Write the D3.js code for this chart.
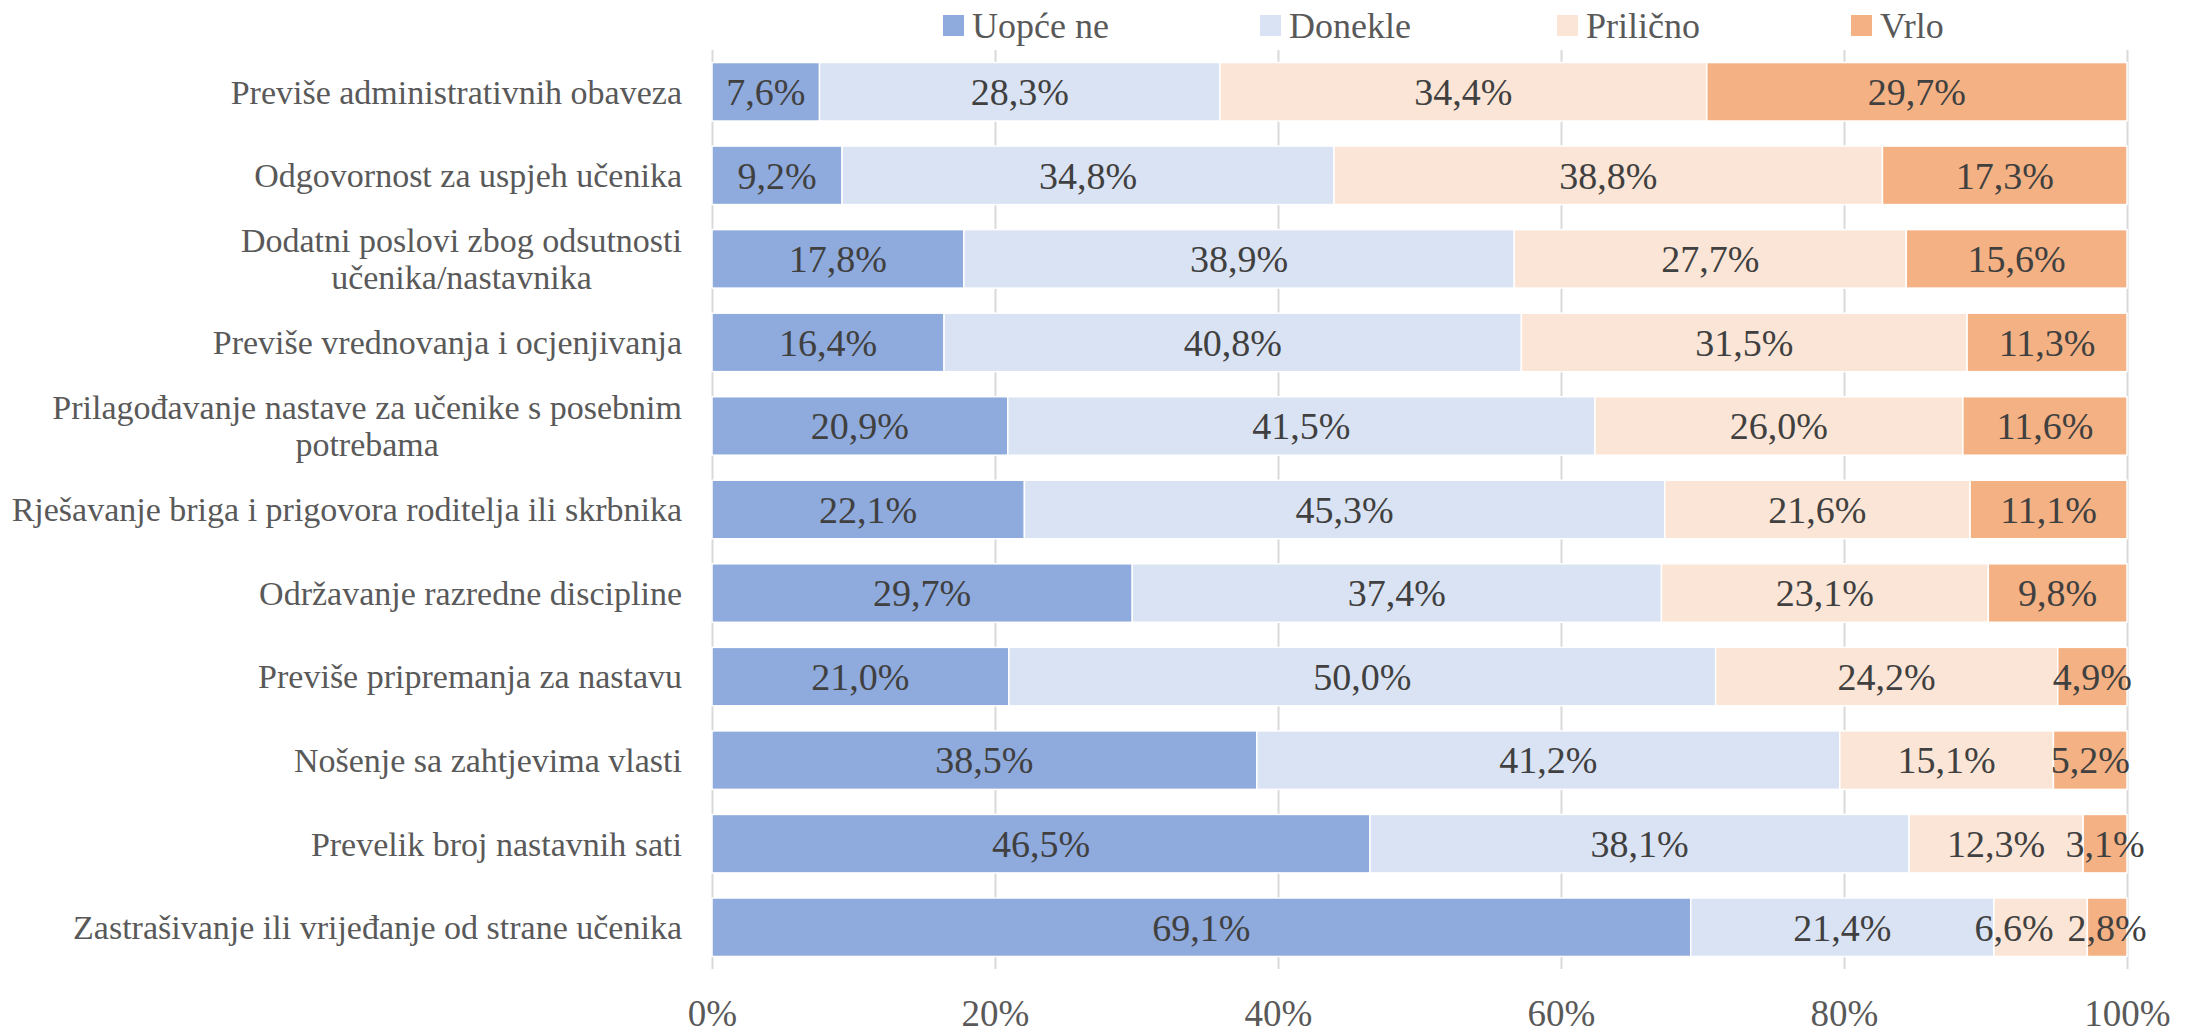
<!DOCTYPE html>
<html>
<head>
<meta charset="utf-8">
<script src="https://cdn.jsdelivr.net/npm/d3@7/dist/d3.min.js"></script>
<style>
  html, body { margin: 0; padding: 0; background: #fff; }
  svg { display: block; font-family: "Liberation Serif", "DejaVu Serif", serif; }
</style>
</head>
<body>
<div id="chart"></div>
<script>
// categories, top to bottom (line breaks as in the original)
var categories = [
  "Previše administrativnih obaveza",
  "Odgovornost za uspjeh učenika",
  "Dodatni poslovi zbog odsutnosti\nučenika/nastavnika",
  "Previše vrednovanja i ocjenjivanja",
  "Prilagođavanje nastave za učenike s posebnim\npotrebama",
  "Rješavanje briga i prigovora roditelja ili skrbnika",
  "Održavanje razredne discipline",
  "Previše pripremanja za nastavu",
  "Nošenje sa zahtjevima vlasti",
  "Prevelik broj nastavnih sati",
  "Zastrašivanje ili vrijeđanje od strane učenika"
];

var seriesNames = ["Uopće ne", "Donekle", "Prilično", "Vrlo"];

var uopceNe  = [7.6, 9.2, 17.8, 16.4, 20.9, 22.1, 29.7, 21.0, 38.5, 46.5, 69.1];
var donekle  = [28.3, 34.8, 38.9, 40.8, 41.5, 45.3, 37.4, 50.0, 41.2, 38.1, 21.4];
var prilicno = [34.4, 38.8, 27.7, 31.5, 26.0, 21.6, 23.1, 24.2, 15.1, 12.3, 6.6];
var vrlo     = [29.7, 17.3, 15.6, 11.3, 11.6, 11.1, 9.8, 4.9, 5.2, 3.1, 2.8];

var tickValues = [0, 0.2, 0.4, 0.6, 0.8, 1.0];

var colors = ["#8FAADC", "#DAE3F3", "#FBE5D6", "#F4B183"];

var width = 2202, height = 1035;
var plotLeft = 712, plotRight = 2127, plotTop = 50, plotBottom = 969;

// build table for d3.stack
var table = categories.map(function(c, i) {
  var row = { cat: c };
  row[seriesNames[0]] = uopceNe[i];
  row[seriesNames[1]] = donekle[i];
  row[seriesNames[2]] = prilicno[i];
  row[seriesNames[3]] = vrlo[i];
  return row;
});

var stack = d3.stack().keys(seriesNames).offset(d3.stackOffsetExpand);
var layers = stack(table);

var x = d3.scaleLinear().domain([0, 1]).range([plotLeft, plotRight]);
var y = d3.scaleBand().domain(categories).range([plotTop, plotBottom])
  .paddingInner(0.3).paddingOuter(0.15);
var color = d3.scaleOrdinal().domain(seriesNames).range(colors);

var svg = d3.select("#chart").append("svg")
  .attr("width", width).attr("height", height);

// gridlines + x axis
var xAxis = svg.append("g")
  .attr("transform", "translate(0," + plotBottom + ")")
  .call(d3.axisBottom(x).tickValues(tickValues).tickFormat(d3.format(".0%"))
    .tickSize(-(plotBottom - plotTop)));
xAxis.attr("font-family", null).attr("font-size", null);
xAxis.select(".domain").remove();
xAxis.selectAll(".tick line").attr("stroke", "#D9D9D9").attr("stroke-width", 2);
xAxis.selectAll(".tick text")
  .attr("y", 57).attr("dy", 0)
  .attr("fill", "#595959")
  .style("font-size", "37px");

// bars
var layer = svg.selectAll("g.layer").data(layers).enter().append("g")
  .attr("class", "layer")
  .attr("fill", function(d) { return color(d.key); });

layer.selectAll("rect").data(function(d) { return d; }).enter().append("rect")
  .attr("x", function(d) { return x(d[0]); })
  .attr("y", function(d) { return y(d.data.cat); })
  .attr("width", function(d) { return x(d[1]) - x(d[0]); })
  .attr("height", y.bandwidth())
  .attr("stroke", "#fff")
  .attr("stroke-width", 1.5);

// data labels
var fmt = function(v) { return v.toFixed(1).replace(".", ",") + "%"; };
var labelG = svg.append("g");
categories.forEach(function(c, ci) {
  var row = layers.map(function(l) {
    var p = l[ci];
    return labelG.append("text")
      .attr("x", (x(p[0]) + x(p[1])) / 2)
      .attr("y", y(c) + y.bandwidth() / 2)
      .attr("dy", "0.35em")
      .attr("text-anchor", "middle")
      .attr("fill", "#404040")
      .style("font-size", "38px")
      .text(fmt(p.data[l.key]));
  });
  // push overlapping labels to the left, as Excel does
  for (var i = row.length - 2; i >= 0; i--) {
    var a = row[i], b = row[i + 1];
    var aw = a.node().getComputedTextLength(), bw = b.node().getComputedTextLength();
    var ax = +a.attr("x"), bx = +b.attr("x");
    var overlap = (ax + aw / 2) - (bx - bw / 2) + 14;
    if (overlap > 0) a.attr("x", ax - overlap);
  }
});

// category labels (right aligned block, lines centred inside it)
var labelRight = 682, lineH = 37;
var catG = svg.append("g");
categories.forEach(function(c) {
  var lines = c.split("\n");
  var t = catG.append("text")
    .attr("fill", "#595959")
    .style("font-size", "34px")
    .attr("text-anchor", "middle");
  var cy = y(c) + y.bandwidth() / 2;
  var spans = lines.map(function(l, i) {
    return t.append("tspan")
      .attr("y", cy + (i - (lines.length - 1) / 2) * lineH)
      .attr("dy", "0.35em")
      .text(l);
  });
  var maxW = d3.max(spans, function(s) { return s.node().getComputedTextLength(); });
  spans.forEach(function(s) { s.attr("x", labelRight - maxW / 2); });
});

// legend
var legendX = [943, 1260, 1557, 1851];
var legend = svg.append("g").selectAll("g").data(seriesNames).enter().append("g")
  .attr("transform", function(d, i) { return "translate(" + legendX[i] + ",0)"; });
legend.append("rect")
  .attr("x", 0).attr("y", 15).attr("width", 21).attr("height", 21)
  .attr("fill", function(d) { return color(d); });
legend.append("text")
  .attr("x", 29).attr("y", 38)
  .attr("fill", "#595959")
  .style("font-size", "36px")
  .text(function(d) { return d; });
</script>
</body>
</html>
